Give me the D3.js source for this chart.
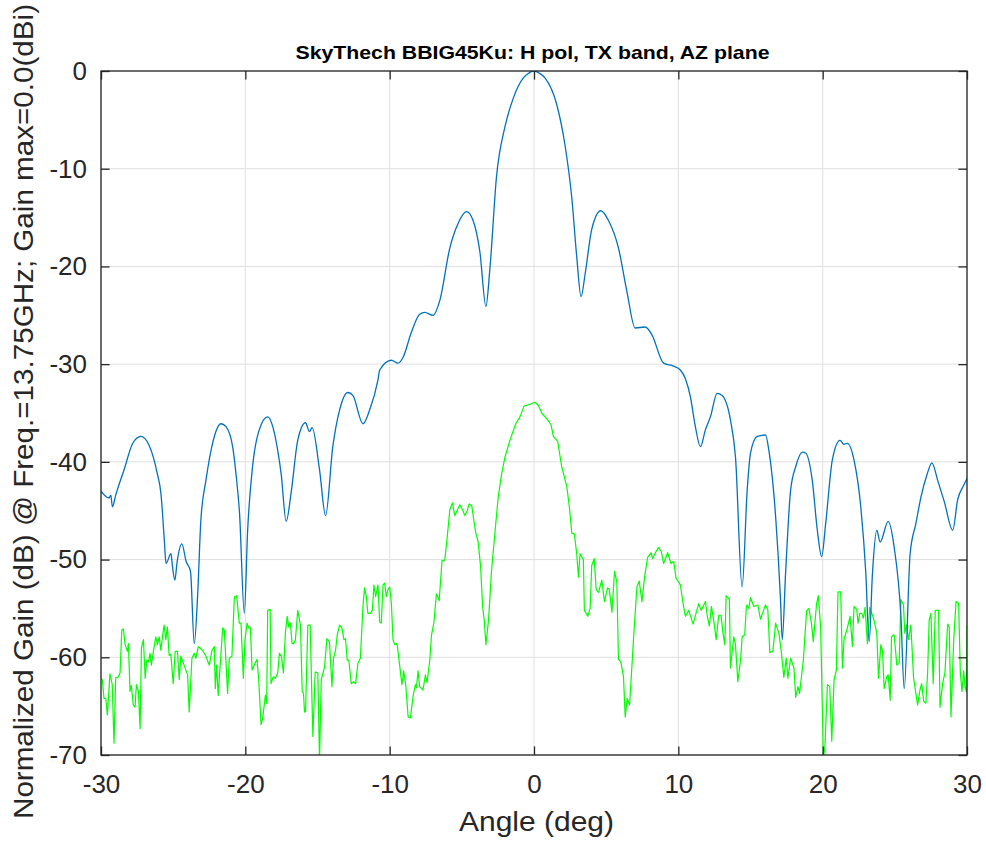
<!DOCTYPE html>
<html>
<head>
<meta charset="utf-8">
<script src="https://cdn.jsdelivr.net/npm/d3@7"></script>
<style>
  html, body { margin: 0; padding: 0; background: #fff; }
  svg { display: block; }
  text { font-family: "Liberation Sans", Arial, Helvetica, sans-serif; fill: #262626; }
</style>
</head>
<body>
<svg id="chart" width="986" height="842"></svg>
<script>
// ---------------- DATA ----------------
const titleText = "SkyThech BBIG45Ku: H pol, TX band, AZ plane";
const xLabelText = "Angle (deg)";
const yLabelText = "Normalized Gain (dB) @ Freq.=13.75GHz; Gain max=0.0(dBi)";

const xTicks = [-30, -20, -10, 0, 10, 20, 30];
const yTicks = [-70, -60, -50, -40, -30, -20, -10, 0];

// Co-polar pattern (blue)
const blueAngles = [-30.0,-29.44,-29.32,-29.21,-28.98,-28.4,-27.8,-27.24,-26.67,-26.1,-25.85,-25.6,-25.5,-25.15,-25.05,-24.88,-24.74,-24.4,-24.1,-23.8,-23.54,-23.3,-23.08,-22.73,-22.27,-21.69,-21.34,-20.88,-20.65,-20.4,-20.07,-19.84,-19.5,-19.03,-18.45,-18.1,-17.76,-17.52,-17.17,-16.83,-16.37,-15.83,-15.56,-15.37,-14.86,-14.44,-13.94,-13.47,-12.9,-12.55,-11.85,-11.39,-10.81,-10.69,-9.88,-9.42,-9.07,-8.49,-7.92,-7.57,-6.99,-6.53,-5.83,-5.26,-4.68,-4.22,-3.75,-3.33,-3.06,-2.59,-2.01,-1.44,-0.74,-0.4,0,0.4,0.76,1.57,2.15,2.62,2.96,3.26,3.54,4.0,4.63,5.16,5.85,6.44,7.01,7.71,8.17,8.98,9.67,10.14,10.49,10.83,11.18,11.53,11.88,12.22,12.69,13.03,13.61,13.96,14.42,14.77,15.0,15.47,16.04,16.27,16.74,17.08,17.2,17.43,17.78,18.13,18.59,18.82,19.28,19.63,19.93,20.21,20.67,21.2,21.48,21.71,22.17,22.64,22.99,23.22,23.45,23.75,23.98,24.54,24.95,25.42,25.65,26.06,26.46,26.81,27.22,27.57,27.97,28.43,29.01,29.35,29.77,30.0];
const blueGain = [-43.0,-43.7,-43.4,-44.6,-43.4,-40.8,-38.1,-37.4,-38.3,-41.2,-43.2,-48.3,-50.4,-49.4,-50.7,-52.1,-50.4,-48.4,-50.2,-51.2,-58.6,-53.5,-45.95,-41.9,-38.1,-36.1,-36.4,-38.45,-41.2,-45.3,-55.5,-47.0,-40.5,-36.7,-35.4,-36.4,-38.8,-41.2,-46.1,-43.2,-37.8,-36.0,-36.9,-36.5,-40.8,-45.5,-38.45,-34.7,-32.9,-33.2,-36.1,-34.7,-31.6,-30.6,-29.6,-29.9,-29.3,-26.7,-24.9,-24.7,-25.0,-23.5,-18.1,-15.6,-14.4,-15.3,-18.5,-24.1,-20.3,-10.7,-5.7,-2.8,-0.7,-0.25,0,-0.25,-0.7,-3.4,-7.6,-13.0,-19.0,-23.1,-20.8,-16.2,-14.3,-15.3,-18.1,-22.6,-26.3,-26.2,-27.0,-29.9,-30.2,-30.6,-31.5,-33.3,-36.4,-38.45,-36.7,-35.4,-33.0,-33.2,-35.7,-39.5,-52.8,-42.9,-39.1,-37.4,-37.25,-38.8,-45.6,-54.1,-58.2,-51.4,-42.9,-40.5,-39.0,-39.1,-41.9,-47.0,-49.7,-46.3,-39.8,-37.8,-38.2,-38.1,-39.8,-44.6,-51.4,-58.4,-51.4,-47.0,-48.2,-46.1,-48.7,-55.8,-63.2,-49.4,-46.3,-43.6,-41.35,-40.1,-41.9,-44.1,-47.0,-43.9,-42.4,-41.7];

// Cross-polar pattern (green)
const greenAngles = [-30.0,-29.91,-29.79,-29.67,-29.56,-29.38,-29.22,-29.1,-28.98,-28.8,-28.68,-28.56,-28.45,-28.33,-28.17,-28.1,-27.99,-27.9,-27.76,-27.64,-27.55,-27.41,-27.29,-27.2,-27.06,-26.94,-26.83,-26.71,-26.6,-26.51,-26.37,-26.2,-26.09,-25.97,-25.85,-25.74,-25.63,-25.51,-25.4,-25.28,-25.16,-25.0,-24.86,-24.7,-24.58,-24.47,-24.24,-24.0,-23.89,-23.7,-23.54,-23.43,-23.26,-22.96,-22.73,-22.5,-22.31,-22.15,-22.08,-21.99,-21.88,-21.74,-21.57,-21.46,-21.34,-21.23,-21.11,-20.93,-20.76,-20.6,-20.42,-20.3,-20.14,-20.02,-19.88,-19.77,-19.65,-19.53,-19.38,-19.19,-19.08,-18.91,-18.8,-18.61,-18.52,-18.45,-18.28,-18.22,-18.06,-17.92,-17.76,-17.64,-17.5,-17.36,-17.22,-17.1,-16.99,-16.88,-16.76,-16.65,-16.53,-16.37,-16.18,-16.06,-15.97,-15.9,-15.83,-15.67,-15.51,-15.32,-15.16,-14.98,-14.86,-14.74,-14.51,-14.35,-14.17,-14.0,-13.89,-13.75,-13.63,-13.47,-13.31,-13.17,-13.06,-12.94,-12.83,-12.66,-12.5,-12.36,-12.2,-12.03,-11.85,-11.74,-11.62,-11.51,-11.34,-11.2,-11.09,-10.97,-10.81,-10.69,-10.58,-10.46,-10.35,-10.23,-10.12,-10.0,-9.88,-9.77,-9.65,-9.49,-9.31,-9.15,-9.03,-8.89,-8.72,-8.56,-8.38,-8.22,-8.15,-8.03,-7.92,-7.69,-7.52,-7.41,-7.22,-7.1,-6.94,-6.76,-6.57,-6.37,-6.18,-6.02,-5.83,-5.65,-5.49,-5.14,-4.95,-4.79,-4.63,-4.49,-4.31,-4.17,-4.03,-3.87,-3.7,-3.56,-3.45,-3.33,-3.15,-2.94,-2.71,-2.48,-2.24,-2.01,-1.67,-1.25,-0.97,-0.69,-0.28,0.07,0.3,0.53,0.95,1.18,1.34,1.64,1.92,2.27,2.45,2.62,2.8,2.96,3.08,3.19,3.42,3.49,3.73,3.89,4.0,4.17,4.31,4.47,4.7,4.88,5.09,5.21,5.4,5.58,5.74,5.85,6.02,6.2,6.32,6.46,6.62,6.78,6.92,7.13,7.29,7.48,7.66,7.87,8.1,8.22,8.45,8.63,8.82,8.98,9.26,9.49,9.68,9.84,10.07,10.14,10.33,10.49,10.72,11.02,11.41,11.58,11.88,12.0,12.15,12.29,12.45,12.62,12.8,12.96,13.1,13.22,13.31,13.54,13.61,13.84,13.96,14.12,14.31,14.42,14.6,14.72,14.88,15.0,15.23,15.51,15.69,15.88,16.04,16.2,16.34,16.55,16.74,16.97,17.13,17.31,17.48,17.59,17.78,18.01,18.13,18.29,18.4,18.66,18.89,19.05,19.22,19.35,19.58,19.7,19.86,20.05,20.16,20.33,20.49,20.63,20.79,20.95,21.06,21.25,21.37,21.48,21.71,21.9,22.06,22.17,22.36,22.45,22.57,22.71,22.82,22.94,23.1,23.26,23.52,23.75,23.87,24.03,24.15,24.26,24.44,24.54,24.68,24.77,24.95,25.14,25.3,25.42,25.6,25.69,25.81,25.95,26.11,26.3,26.41,26.58,26.74,26.86,27.0,27.15,27.27,27.38,27.5,27.66,27.8,28.03,28.13,28.31,28.47,28.66,28.77,28.89,29.08,29.24,29.42,29.54,29.65,29.77,29.86,29.95,30.0];
const greenGain = [-62.2,-62.3,-64.2,-64.2,-65.9,-61.7,-62.8,-68.8,-62.1,-62.0,-61.6,-57.2,-57.1,-58.7,-59.4,-58.6,-63.5,-62.9,-64.9,-65.1,-62.8,-63.5,-67.3,-59.1,-58.2,-62.15,-60.3,-60.45,-59.6,-60.8,-59.4,-57.9,-58.7,-57.9,-59.3,-57.9,-56.7,-58.2,-56.9,-59.8,-59.7,-62.7,-59.4,-59.4,-62.3,-59.9,-60.8,-61.8,-65.6,-60.1,-59.6,-60.1,-58.9,-59.3,-59.9,-60.8,-59.3,-58.9,-63.2,-60.8,-63.9,-60.8,-57.0,-57.2,-60.45,-63.7,-60.1,-59.9,-53.8,-53.7,-56.5,-56.5,-62.15,-58.2,-56.5,-57.0,-57.0,-61.3,-60.8,-60.2,-62.15,-66.9,-66.25,-63.9,-64.7,-55.2,-55.1,-62.7,-62.0,-62.15,-61.6,-59.6,-59.9,-61.6,-57.4,-55.8,-56.9,-56.5,-58.6,-58.6,-58.2,-55.2,-56.7,-63.5,-63.7,-65.6,-65.6,-56.7,-56.7,-68.1,-61.5,-61.6,-70.5,-62.3,-61.0,-58.1,-58.4,-63.0,-60.1,-59.3,-57.7,-56.7,-57.0,-58.2,-58.1,-60.3,-60.3,-62.7,-62.5,-62.7,-60.6,-60.1,-54.8,-52.9,-53.8,-55.5,-55.5,-55.2,-52.6,-53.8,-52.6,-56.4,-56.5,-52.6,-52.4,-53.8,-53.1,-52.8,-54.5,-58.2,-58.7,-58.6,-60.8,-62.8,-61.4,-62.8,-66.1,-66.2,-64.0,-62.8,-63.1,-61.4,-63.0,-63.35,-61.8,-62.6,-60.3,-57.7,-56.5,-53.5,-54.2,-50.1,-50.05,-47.8,-44.9,-44.2,-45.5,-44.4,-44.9,-45.5,-45.0,-44.3,-44.5,-46.0,-47.3,-48.2,-50.7,-54.8,-56.2,-58.7,-56.2,-51.1,-47.3,-43.6,-41.2,-39.5,-37.8,-36.05,-35.4,-34.3,-34.1,-33.9,-34.2,-35.0,-35.7,-36.2,-37.4,-37.9,-40.5,-42.5,-44.6,-47.3,-47.4,-49.4,-51.8,-49.4,-50.0,-55.2,-55.8,-55.0,-50.6,-49.9,-53.1,-53.35,-52.1,-54.3,-52.9,-53.0,-55.4,-51.2,-52.3,-60.2,-60.5,-62.0,-66.1,-64.2,-64.9,-61.0,-57.5,-52.8,-52.2,-54.3,-51.8,-49.8,-49.3,-49.9,-49.2,-48.75,-49.2,-50.4,-49.3,-50.4,-50.2,-51.9,-52.4,-52.6,-54.5,-55.8,-55.2,-56.6,-54.5,-55.2,-54.3,-55.7,-56.8,-54.8,-56.2,-58.2,-55.7,-55.7,-57.6,-58.7,-53.7,-54.1,-61.1,-57.9,-58.7,-62.5,-60.3,-57.9,-57.7,-54.65,-55.0,-53.9,-54.8,-54.65,-56.1,-55.3,-54.65,-55.1,-59.5,-59.4,-56.5,-57.55,-59.4,-62.05,-60.1,-62.15,-60.1,-61.1,-64.1,-63.0,-63.7,-60.3,-55.2,-55.0,-56.5,-58.4,-54.5,-53.7,-56.9,-70.5,-69.0,-62.8,-63.0,-68.6,-62.3,-61.3,-53.3,-53.3,-61.1,-58.2,-57.0,-55.8,-58.9,-54.8,-55.1,-56.5,-55.5,-55.5,-56.0,-54.9,-58.6,-54.9,-56.0,-57.5,-62.15,-58.7,-59.4,-63.2,-62.0,-61.8,-64.4,-57.9,-57.7,-60.8,-60.6,-54.1,-54.65,-57.55,-56.7,-58.2,-56.7,-62.15,-63.2,-64.9,-63.35,-62.7,-64.5,-64.7,-61.6,-56.2,-55.5,-62.7,-55.2,-55.2,-65.1,-62.7,-61.6,-56.6,-56.9,-66.1,-58.2,-54.3,-54.5,-61.6,-63.5,-61.4,-63.0,-63.5,-56.7];

// ---------------- LAYOUT ----------------
const plot = { left: 101, right: 967, top: 71, bottom: 755 };
const axisColor = "#262626";
const gridColor = "#dfdfdf";

const svg = d3.select("#chart");
const x = d3.scaleLinear().domain([-30, 30]).range([plot.left, plot.right]);
const y = d3.scaleLinear().domain([-70, 0]).range([plot.bottom, plot.top]);

svg.append("defs").append("clipPath").attr("id", "plotClip")
  .append("rect")
  .attr("x", plot.left).attr("y", plot.top)
  .attr("width", plot.right - plot.left).attr("height", plot.bottom - plot.top);

// grid
const grid = svg.append("g");
grid.selectAll("line.gx").data(xTicks).join("line")
  .attr("x1", d => x(d)).attr("x2", d => x(d))
  .attr("y1", plot.top).attr("y2", plot.bottom)
  .attr("stroke", gridColor).attr("stroke-width", 1);
grid.selectAll("line.gy").data(yTicks).join("line")
  .attr("x1", plot.left).attr("x2", plot.right)
  .attr("y1", d => y(d)).attr("y2", d => y(d))
  .attr("stroke", gridColor).attr("stroke-width", 1);

// lines
const blueData = blueAngles.map((a, i) => [a, blueGain[i]]);
const greenData = greenAngles.map((a, i) => [a, greenGain[i]]);

const lines = svg.append("g").attr("clip-path", "url(#plotClip)");
lines.append("path")
  .datum(greenData)
  .attr("fill", "none").attr("stroke", "#00ff00").attr("stroke-width", 1.2)
  .attr("stroke-linejoin", "round")
  .attr("d", d3.line().x(d => x(d[0])).y(d => y(d[1])));
lines.append("path")
  .datum(blueData)
  .attr("fill", "none").attr("stroke", "#0072bd").attr("stroke-width", 1.3)
  .attr("stroke-linejoin", "round")
  .attr("d", d3.line().curve(d3.curveMonotoneX).x(d => x(d[0])).y(d => y(d[1])));

// axes
const tickLen = 8.6;
function styleAxis(g, showText) {
  g.select(".domain").remove();
  g.selectAll(".tick line").attr("stroke", axisColor).attr("stroke-width", 1.3);
  g.selectAll(".tick text").attr("fill", axisColor)
    .style("font-size", "26px")
    .style("font-family", '"Liberation Sans", Arial, Helvetica, sans-serif');
  if (!showText) g.selectAll(".tick text").remove();
}
const fmt = d => String(d).replace("\u2212", "-");

svg.append("g").attr("transform", `translate(0,${plot.bottom})`)
  .call(d3.axisBottom(x).tickValues(xTicks).tickFormat(d => fmt(d)).tickSize(-tickLen).tickPadding(20))
  .call(g => styleAxis(g, true));
svg.append("g").attr("transform", `translate(0,${plot.top})`)
  .call(d3.axisTop(x).tickValues(xTicks).tickSize(-tickLen))
  .call(g => styleAxis(g, false));
svg.append("g").attr("transform", `translate(${plot.left},0)`)
  .call(d3.axisLeft(y).tickValues(yTicks).tickFormat(d => fmt(d)).tickSize(-tickLen).tickPadding(14))
  .call(g => styleAxis(g, true));
svg.append("g").attr("transform", `translate(${plot.right},0)`)
  .call(d3.axisRight(y).tickValues(yTicks).tickSize(-tickLen))
  .call(g => styleAxis(g, false));

// box
svg.append("rect")
  .attr("x", plot.left).attr("y", plot.top)
  .attr("width", plot.right - plot.left).attr("height", plot.bottom - plot.top)
  .attr("fill", "none").attr("stroke", axisColor).attr("stroke-width", 1.3);

// title
svg.append("text")
  .attr("x", 532.5).attr("y", 59)
  .attr("text-anchor", "middle")
  .style("font-size", "19px").style("font-weight", "bold").style("fill", "#000")
  .attr("textLength", 474).attr("lengthAdjust", "spacingAndGlyphs")
  .text(titleText);

// x label
svg.append("text")
  .attr("x", 536.5).attr("y", 831)
  .attr("text-anchor", "middle")
  .style("font-size", "28px")
  .attr("textLength", 155).attr("lengthAdjust", "spacingAndGlyphs")
  .text(xLabelText);

// y label
svg.append("text")
  .attr("transform", "translate(33,411.5) rotate(-90)")
  .attr("text-anchor", "middle")
  .style("font-size", "27px")
  .attr("textLength", 815).attr("lengthAdjust", "spacingAndGlyphs")
  .text(yLabelText);
</script>
</body>
</html>
